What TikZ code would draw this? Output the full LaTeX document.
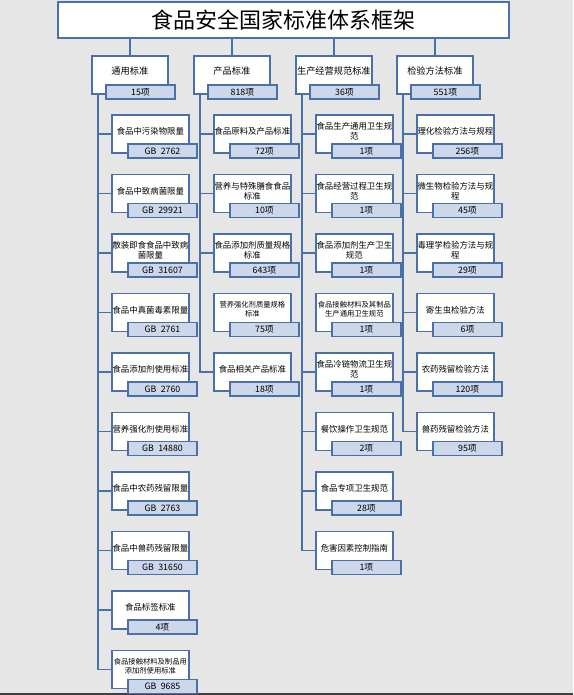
\documentclass[tikz,border=0pt]{standalone}
\usepackage{fontspec}
\setmainfont{Noto Sans CJK SC}
\usetikzlibrary{calc}
\definecolor{boxblue}{HTML}{4A70AA}
\definecolor{badgefill}{HTML}{CDD7EA}
\definecolor{pagebg}{HTML}{E6E6E6}
\tikzset{
  catbox/.style={draw=boxblue,line width=1.7pt,fill=white,minimum width=77pt,minimum height=38pt,inner sep=0pt,anchor=north west},
  boxtext/.style={align=center,inner sep=0pt,font=\fontsize{8.4}{10}\selectfont},
  smalltext/.style={align=center,inner sep=0pt,font=\fontsize{7.3}{9}\selectfont},
  countbox/.style={draw=boxblue,line width=1.9pt,fill=badgefill,minimum width=69pt,minimum height=14pt,inner sep=0pt,anchor=north west,font=\fontsize{8.8}{9}\selectfont},
  link/.style={draw=boxblue,line width=1.6pt},
}
\begin{document}
\begin{tikzpicture}[x=1pt,y=-1pt]
  \fill[pagebg] (0,0) rectangle (573,695);
  \useasboundingbox (0,0) rectangle (573,695);
  \draw[black!75,line width=2pt] (0,694) -- (573,694);
  % title
  \node[catbox,minimum width=451pt,minimum height=36pt] (title) at (57,0.9) {};
  \node[font=\fontsize{22}{24}\selectfont] at (title.center) {食品安全国家标准体系框架};
  % four groups
  \foreach \g/\x/\name/\cnt in {1/91/通用标准/15项, 2/193/产品标准/818项, 3/295/生产经营规范标准/36项, 4/396/检验方法标准/551项}{
    \node[catbox,minimum width=76pt] (g\g) at (\x,55) {};
    \node[boxtext,font=\fontsize{9.2}{10}\selectfont] at ($(g\g.north)+(0,16)$) {\name};
    \node[countbox] (gn\g) at ($(g\g.north west)+(14,29)$) {\cnt};
    \draw[link] (g\g.north) -- (g\g.north |- title.south);
    \coordinate (t\g) at ($(g\g.south west)+(7,0)$);
  }
  % 通用标准
  \foreach \r/\txt/\num in {1/{食品中污染物限量}/{GB\enspace 2762}, 2/{食品中致病菌限量}/{GB\enspace 29921},
      3/{散装即食食品中致病\\菌限量}/{GB\enspace 31607}, 4/{食品中真菌毒素限量}/{GB\enspace 2761},
      5/{食品添加剂使用标准}/{GB\enspace 2760}, 6/{营养强化剂使用标准}/{GB\enspace 14880},
      7/{食品中农药残留限量}/{GB\enspace 2763}, 8/{食品中兽药残留限量}/{GB\enspace 31650},
      9/{食品标签标准}/{4项}}{
    \node[catbox] (a\r) at (111,{114+59.5*(\r-1)}) {};
    \node[boxtext] at ($(a\r.north)+(0,17.5)$) {\txt};
    \node[countbox] (an\r) at ($(a\r.north west)+(16,29)$) {\num};
    \draw[link] (a\r.west) -- (t1 |- a\r.west);
  }
  \node[catbox] (a10) at (111,{114+59.5*9}) {};
  \node[smalltext] at ($(a10.north)+(0,17)$) {食品接触材料及制品用\\添加剂使用标准};
  \node[countbox] (an10) at ($(a10.north west)+(16,29)$) {GB\enspace 9685};
  \draw[link] (t1) |- (a10.west);
  % 产品标准
  \foreach \r/\txt/\num in {1/{食品原料及产品标准}/{72项}, 2/{营养与特殊膳食食品\\标准}/{10项},
      3/{食品添加剂质量规格\\标准}/{643项}, 5/{食品相关产品标准}/{18项}}{
    \node[catbox] (b\r) at (213,{114+59.5*(\r-1)}) {};
    \node[boxtext] at ($(b\r.north)+(0,17.5)$) {\txt};
    \node[countbox] (bn\r) at ($(b\r.north west)+(16,29)$) {\num};
    \draw[link] (b\r.west) -- (t2 |- b\r.west);
  }
  \node[catbox] (b4) at (213,{114+59.5*3}) {};
  \node[smalltext] at ($(b4.north)+(0,16.5)$) {营养强化剂质量规格\\标准};
  \node[countbox] (bn4) at ($(b4.north west)+(16,29)$) {75项};
  \draw[link] (t2) |- (b5.west);
  % 生产经营规范标准
  \foreach \r/\txt/\num in {1/{食品生产通用卫生规\\范}/{1项}, 2/{食品经营过程卫生规\\范}/{1项},
      3/{食品添加剂生产卫生\\规范}/{1项}, 5/{食品冷链物流卫生规\\范}/{1项},
      6/{餐饮操作卫生规范}/{2项}, 7/{食品专项卫生规范}/{28项}, 8/{危害因素控制指南}/{1项}}{
    \node[catbox] (c\r) at (315,{114+59.5*(\r-1)}) {};
    \node[boxtext] at ($(c\r.north)+(0,17.5)$) {\txt};
    \node[countbox] (cn\r) at ($(c\r.north west)+(16,29)$) {\num};
    \draw[link] (c\r.west) -- (t3 |- c\r.west);
  }
  \node[catbox] (c4) at (315,{114+59.5*3}) {};
  \node[smalltext] at ($(c4.north)+(0,16.5)$) {食品接触材料及其制品\\生产通用卫生规范};
  \node[countbox] (cn4) at ($(c4.north west)+(16,29)$) {1项};
  \draw[link] (t3) |- (c8.west);
  % 检验方法标准
  \foreach \r/\txt/\num in {1/{理化检验方法与规程}/{256项}, 2/{微生物检验方法与规\\程}/{45项},
      3/{毒理学检验方法与规\\程}/{29项}, 4/{寄生虫检验方法}/{6项},
      5/{农药残留检验方法}/{120项}, 6/{兽药残留检验方法}/{95项}}{
    \node[catbox] (d\r) at (416,{114+59.5*(\r-1)}) {};
    \node[boxtext] at ($(d\r.north)+(0,17.5)$) {\txt};
    \node[countbox] (dn\r) at ($(d\r.north west)+(16,29)$) {\num};
    \draw[link] (d\r.west) -- (t4 |- d\r.west);
  }
  \draw[link] (t4) |- (d6.west);
\end{tikzpicture}
\end{document}
